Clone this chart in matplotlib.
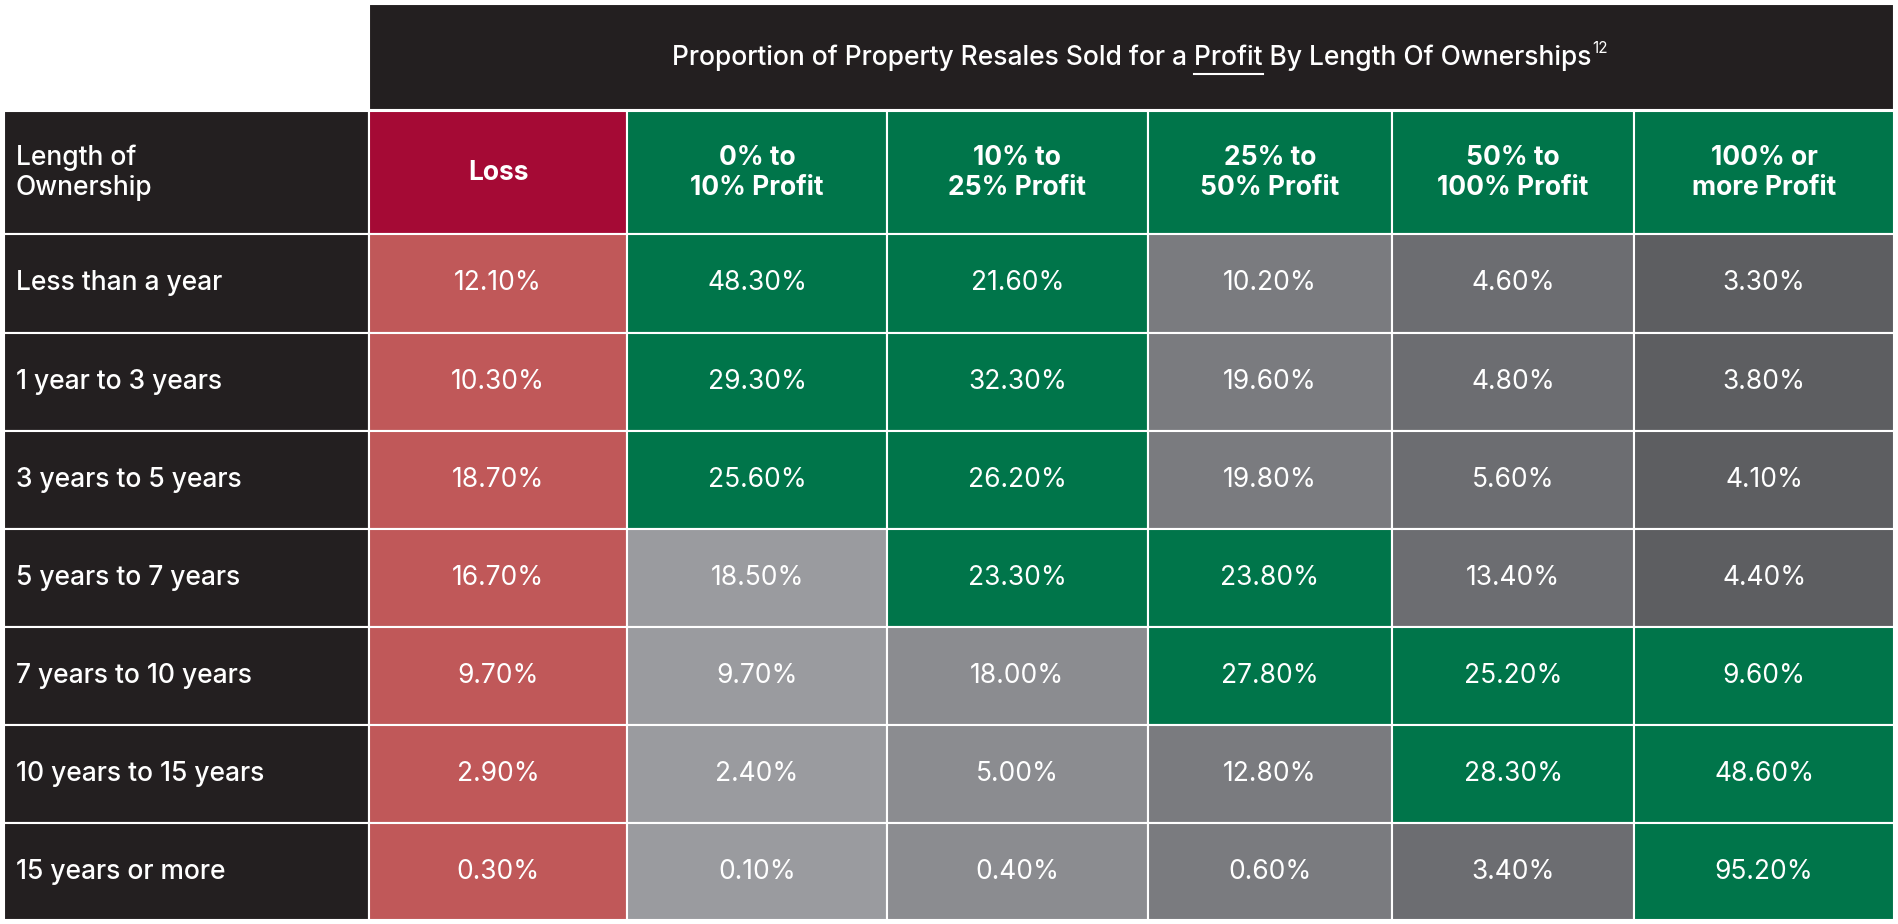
import matplotlib.pyplot as plt
from matplotlib.patches import Rectangle

title = "Proportion of Property Resales Sold for a Profit By Length Of Ownerships"
columns = ["Loss", "0% to\n10% Profit", "10% to\n25% Profit", "25% to\n50% Profit",
           "50% to\n100% Profit", "100% or\nmore Profit"]
rows = ["Less than a year", "1 year to 3 years", "3 years to 5 years", "5 years to 7 years",
        "7 years to 10 years", "10 years to 15 years", "15 years or more"]
values = [
    [12.1, 48.3, 21.6, 10.2, 4.6, 3.3],
    [10.3, 29.3, 32.3, 19.6, 4.8, 3.8],
    [18.7, 25.6, 26.2, 19.8, 5.6, 4.1],
    [16.7, 18.5, 23.3, 23.8, 13.4, 4.4],
    [9.7, 9.7, 18.0, 27.8, 25.2, 9.6],
    [2.9, 2.4, 5.0, 12.8, 28.3, 48.6],
    [0.3, 0.1, 0.4, 0.6, 3.4, 95.2],
]
highlight = [
    [0, 1, 1, 0, 0, 0],
    [0, 1, 1, 0, 0, 0],
    [0, 1, 1, 0, 0, 0],
    [0, 0, 1, 1, 0, 0],
    [0, 0, 0, 1, 1, 1],
    [0, 0, 0, 0, 1, 1],
    [0, 0, 0, 0, 0, 1],
]

DARK = "#231f20"
GREEN = "#00754a"
LOSS_HEAD = "#a50a35"
LOSS_CELL = "#c05859"
GRAYS = ["#9a9b9f", "#8b8c90", "#7a7b7f", "#6c6d71", "#5d5e61"]
FONT = "Inter"

fig = plt.figure(figsize=(18.98, 9.24), dpi=100)
ax = fig.add_axes([0, 0, 1, 1])
ax.set_xlim(0, 1568)
ax.set_ylim(763, 0)
ax.axis("off")

xs = [3, 305, 518, 733, 948, 1150, 1350, 1565]
ys = [92, 193, 275, 356, 437, 518, 599, 680, 760]


def cell(x0, x1, y0, y1, color):
    ax.add_patch(Rectangle((x0, y0), x1 - x0, y1 - y0, facecolor=color,
                           edgecolor="white", linewidth=1.5))


# title bar
cell(305, 1565, 3, 91, DARK)
t = ax.text(935, 48, title, color="white", fontsize=19, family=FONT,
            fontweight="medium", ha="center", va="center")
sup = ax.text(0, 0, "12", color="white", fontsize=11, family=FONT, va="center")
fig.canvas.draw()
r = fig.canvas.get_renderer()
inv = ax.transData.inverted()
bb = t.get_window_extent(r)
x_left, _ = inv.transform((bb.x0, bb.y0))
x_right, _ = inv.transform((bb.x1, bb.y0))
sup.set_position((x_right + 1, 40))


def width_of(s):
    tmp = ax.text(0, 0, s, fontsize=19, family=FONT, fontweight="medium")
    w = tmp.get_window_extent(r).width
    tmp.remove()
    return w / bb.width * (x_right - x_left)


pre = "Proportion of Property Resales Sold for a "
u0 = x_left + width_of(pre)
u1 = u0 + width_of("Profit")
ax.plot([u0, u1], [61, 61], color="white", lw=1.5)

# header row
cell(xs[0], xs[1], ys[0], ys[1], DARK)
ax.text(xs[0] + 10, (ys[0] + ys[1]) / 2, "Length of\nOwnership", color="white",
        fontsize=19, family=FONT, fontweight="medium", va="center", linespacing=1.2)
for j, name in enumerate(columns):
    cell(xs[j + 1], xs[j + 2], ys[0], ys[1], LOSS_HEAD if j == 0 else GREEN)
    ax.text((xs[j + 1] + xs[j + 2]) / 2, (ys[0] + ys[1]) / 2, name, color="white",
            fontsize=19, family=FONT, fontweight="bold", ha="center", va="center",
            linespacing=1.2)

for i, label in enumerate(rows):
    y0, y1 = ys[i + 1], ys[i + 2]
    cell(xs[0], xs[1], y0, y1, DARK)
    ax.text(xs[0] + 10, (y0 + y1) / 2, label, color="white", fontsize=19,
            family=FONT, fontweight="medium", va="center")
    for j, v in enumerate(values[i]):
        if j == 0:
            c = LOSS_CELL
        elif highlight[i][j]:
            c = GREEN
        else:
            c = GRAYS[j - 1]
        cell(xs[j + 1], xs[j + 2], y0, y1, c)
        ax.text((xs[j + 1] + xs[j + 2]) / 2, (y0 + y1) / 2, f"{v:.2f}%",
                color="white", fontsize=19, family=FONT, ha="center", va="center")

fig.savefig("out.png", dpi=100, facecolor="white")
